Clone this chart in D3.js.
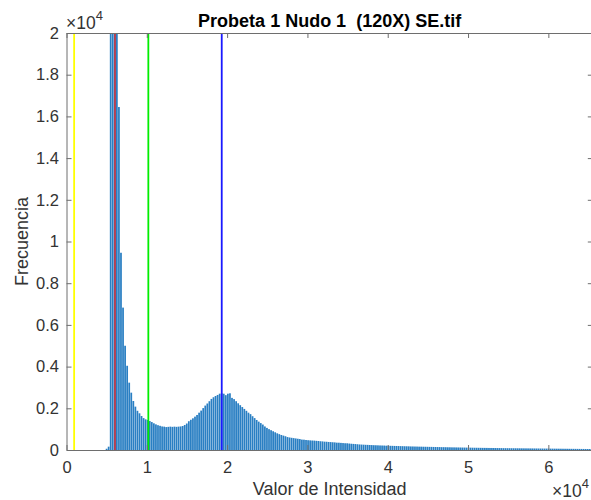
<!DOCTYPE html>
<html>
<head>
<meta charset="utf-8">
<script src="https://cdn.jsdelivr.net/npm/d3@7"></script>
<style>
  html, body { margin: 0; padding: 0; background: #fff; }
  svg { display: block; }
  text { font-family: "Liberation Sans", Arial, Helvetica, sans-serif; }
</style>
</head>
<body>
<svg id="chart" width="591" height="500"></svg>
<script>
// ---------------- data ----------------
const titleText = "Probeta 1 Nudo 1  (120X) SE.tif";
const xLabelText = "Valor de Intensidad";
const yLabelText = "Frecuencia";
const binWidth = 256;            // 256 bins over the 16-bit range
const xTicks = [0, 10000, 20000, 30000, 40000, 50000, 60000];
const xTickLabels = ["0", "1", "2", "3", "4", "5", "6"];
const yTicks = [0, 2000, 4000, 6000, 8000, 10000, 12000, 14000, 16000, 18000, 20000];
const yTickLabels = ["0", "0.2", "0.4", "0.6", "0.8", "1", "1.2", "1.4", "1.6", "1.8", "2"];
// histogram counts, bin i covers [i*256, (i+1)*256)
const counts = [
  0, 0, 0, 0, 0, 0, 0, 0, 0, 0,
  0, 0, 0, 0, 0, 0, 0, 0, 0, 60,
  160, 36000, 72000, 61000, 31000, 16450, 9460, 6830, 5000, 4040,
  3230, 2750, 2350, 2080, 1880, 1760, 1630, 1530, 1470, 1440,
  1390, 1340, 1280, 1230, 1190, 1160, 1130, 1120, 1100, 1110,
  1120, 1110, 1120, 1110, 1120, 1130, 1150, 1200, 1270, 1380,
  1450, 1520, 1600, 1680, 1790, 1890, 2010, 2130, 2230, 2340,
  2450, 2530, 2590, 2640, 2700, 2720, 2700, 2630, 2700, 2720,
  2500, 2440, 2340, 2240, 2150, 2060, 1970, 1880, 1790, 1720,
  1620, 1530, 1440, 1360, 1290, 1220, 1130, 1060, 1000, 950,
  900, 850, 800, 760, 720, 690, 660, 620, 600, 585,
  570, 555, 540, 525, 500, 495, 480, 470, 462, 455,
  450, 440, 432, 420, 412, 400, 396, 385, 380, 372,
  365, 352, 350, 341, 333, 325, 322, 310, 300, 292,
  285, 276, 266, 260, 255, 249, 246, 240, 236, 231,
  228, 224, 219, 216, 213, 207, 205, 201, 199, 195,
  193, 190, 186, 184, 180, 178, 176, 171, 170, 167,
  165, 161, 160, 157, 155, 153, 150, 149, 146, 144,
  142, 140, 137, 136, 134, 131, 130, 127, 126, 124,
  122, 120, 118, 117, 115, 113, 112, 110, 108, 107,
  105, 104, 102, 101, 100, 98, 97, 96, 94, 93,
  92, 91, 89, 88, 87, 86, 85, 84, 83, 82,
  81, 80, 79, 78, 77, 76, 75, 74, 73, 72,
  71, 70, 69, 68, 67, 66, 65, 64, 63, 62,
  61, 60, 59, 58, 57, 56, 55, 54, 53, 52,
  51, 50, 49, 48, 47, 46
];
const thresholdValues = [950, 6040, 10190, 19330];
const thresholdColors = ["#ffff00", "#bf3a48", "#00ee00", "#1a1aff"];

// ---------------- layout ----------------
const svg = d3.select("#chart");
const pLeft = 66.5, pRight = 592.8, pTop = 33, pBottom = 450;

const x = d3.scaleLinear().domain([0, 65535]).range([pLeft, pRight]);
const y = d3.scaleLinear().domain([0, 20000]).range([pBottom, pTop]);

svg.append("defs").append("clipPath").attr("id", "plotclip")
  .append("rect").attr("x", pLeft).attr("y", pTop)
  .attr("width", pRight - pLeft).attr("height", pBottom - pTop);

const plot = svg.append("g").attr("clip-path", "url(#plotclip)");

// bars
const barFrac = 0.85;
plot.append("g").selectAll("rect")
  .data(counts.map((c, i) => ({ i, c })).filter(d => d.c > 0))
  .join("rect")
  .attr("x", d => x(d.i * binWidth + binWidth * (1 - barFrac) / 2))
  .attr("width", d => x(binWidth * barFrac) - x(0))
  .attr("y", d => y(d.c))
  .attr("height", d => y(0) - y(d.c))
  .attr("fill", "#2a7fc3");

// threshold lines
plot.append("g").selectAll("line")
  .data(thresholdValues)
  .join("line")
  .attr("x1", d => x(d)).attr("x2", d => x(d))
  .attr("y1", pTop).attr("y2", pBottom)
  .attr("stroke", (d, i) => thresholdColors[i])
  .attr("stroke-width", 1.8);

// axes
const axisColor = "#6e6e6e";
const labelColor = "#333";
const tickFont = 16.5;

function styleAxis(g) {
  g.selectAll(".domain").attr("stroke", axisColor).attr("stroke-width", 1);
  g.selectAll(".tick line").attr("stroke", axisColor);
  g.selectAll(".tick text").attr("fill", labelColor)
    .style("font-size", tickFont + "px")
    .style("font-family", "'Liberation Sans', Arial, sans-serif");
}

const xAxis = svg.append("g").attr("transform", `translate(0,${pBottom})`)
  .call(d3.axisBottom(x).tickValues(xTicks)
    .tickFormat((d, i) => xTickLabels[i])
    .tickSize(-5).tickSizeOuter(0).tickPadding(11));
styleAxis(xAxis);

const xAxisTop = svg.append("g").attr("transform", `translate(0,${pTop})`)
  .call(d3.axisTop(x).tickValues(xTicks).tickFormat("")
    .tickSize(-5).tickSizeOuter(0));
styleAxis(xAxisTop);

const yAxis = svg.append("g").attr("transform", `translate(${pLeft},0)`)
  .call(d3.axisLeft(y).tickValues(yTicks)
    .tickFormat((d, i) => yTickLabels[i])
    .tickSize(-5).tickSizeOuter(0).tickPadding(7.5));
styleAxis(yAxis);

const yAxisRight = svg.append("g").attr("transform", `translate(${pRight},0)`)
  .call(d3.axisRight(y).tickValues(yTicks).tickFormat("")
    .tickSize(-5).tickSizeOuter(0));
styleAxis(yAxisRight);

// exponent labels
const expTop = svg.append("text").attr("x", 66).attr("y", 29)
  .attr("fill", labelColor).style("font-size", "17.5px");
expTop.append("tspan").text("×10");
expTop.append("tspan").attr("dy", -9).style("font-size", "13px").text("4");

const expBottom = svg.append("text").attr("x", 552).attr("y", 497)
  .attr("fill", labelColor).style("font-size", "17.5px");
expBottom.append("tspan").text("×10");
expBottom.append("tspan").attr("dy", -9).style("font-size", "13px").text("4");

// title
svg.append("text")
  .attr("x", (pLeft + pRight) / 2).attr("y", 27)
  .attr("text-anchor", "middle")
  .style("font-size", "18px").style("font-weight", "bold")
  .style("white-space", "pre")
  .attr("fill", "#000")
  .text(titleText);

// axis labels
svg.append("text")
  .attr("x", (pLeft + pRight) / 2).attr("y", 495)
  .attr("text-anchor", "middle")
  .style("font-size", "18px")
  .attr("fill", labelColor)
  .text(xLabelText);

svg.append("text")
  .attr("transform", `translate(28,${(pTop + pBottom) / 2}) rotate(-90)`)
  .attr("text-anchor", "middle")
  .style("font-size", "18px")
  .attr("fill", labelColor)
  .text(yLabelText);
</script>
</body>
</html>
